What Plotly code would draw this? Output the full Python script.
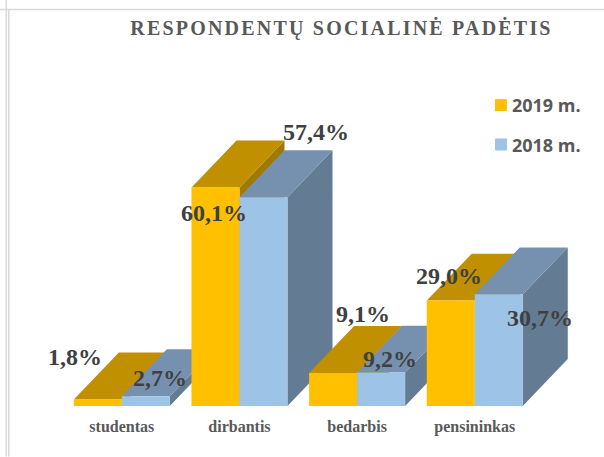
import plotly.graph_objects as go

categories = ["studentas", "dirbantis", "bedarbis", "pensininkas"]
values_2019 = [1.8, 60.1, 9.1, 29.0]
values_2018 = [2.7, 57.4, 9.2, 30.7]
labels_2019 = ["1,8%", "60,1%", "9,1%", "29,0%"]
labels_2018 = ["2,7%", "57,4%", "9,2%", "30,7%"]
shift_2019 = [(-23, 42), (-1.5, -25.5), (30, 59), (-2, 25)]
shift_2018 = [(14, 18), (53, 65), (9, 14), (41, -24)]

BAR_W = 0.408
DX = 0.3827
DY = 12.9
L, T, PW, PH = 63.2, 10.0, 540.8, 396.5
X_MAX = -0.5 + PW / 117.6


def px(x):
    return (x - L) / PW


def py(y):
    return (T + PH - y) / PH


series = [
    ("2019 m.", values_2019, labels_2019, shift_2019, -BAR_W, "#FFC000", "#C09000", "#A07A00"),
    ("2018 m.", values_2018, labels_2018, shift_2018, 0.0, "#9DC3E6", "#7691B0", "#647B94"),
]

fig = go.Figure()
annotations = []
z = 1
for c, cat in enumerate(categories):
    for name, vals, labs, shifts, off, front, top, side in series:
        v = vals[c]
        x0 = c + off
        x1 = x0 + BAR_W
        fig.add_trace(go.Scatter(
            x=[x1, x1 + DX, x1 + DX, x1, x1], y=[0, DY, v + DY, v, 0],
            mode="lines", line=dict(width=0), fill="toself", fillcolor=side,
            hoverinfo="skip", showlegend=False, zorder=z))
        fig.add_trace(go.Scatter(
            x=[x0, x1, x1 + DX, x0 + DX, x0], y=[v, v, v + DY, v + DY, v],
            mode="lines", line=dict(width=0), fill="toself", fillcolor=top,
            hoverinfo="skip", showlegend=False, zorder=z))
        fig.add_trace(go.Bar(
            x=[c], y=[v], width=BAR_W, offset=off, name=name,
            marker=dict(color=front, line=dict(width=0)),
            legendgroup=name, showlegend=c == 0, zorder=z + 1))
        z += 2
        annotations.append(dict(
            x=x0 + BAR_W / 2, y=v, xref="x", yref="y", text=labs[c], showarrow=False,
            xshift=shifts[c][0], yshift=shifts[c][1], yanchor="middle", xanchor="center",
            font=dict(family="Liberation Serif", size=24, color="#404040", weight="bold")))

line = dict(color="#D9D9D9", width=1.5)
fig.update_layout(
    width=604, height=457,
    margin=dict(l=L, r=604 - L - PW, t=T, b=457 - T - PH),
    paper_bgcolor="white", plot_bgcolor="white",
    barmode="overlay",
    title=dict(text="<b>RESPONDENTŲ SOCIALINĖ PADĖTIS</b>", x=341.5 / 604, xanchor="center",
               y=1 - 28 / 457, yanchor="middle",
               font=dict(family="Liberation Serif", size=20, color="#595959")),
    xaxis=dict(range=[-0.5, X_MAX], tickvals=list(range(len(categories))), ticktext=categories,
               showgrid=False, zeroline=False, showline=False, ticks="outside", ticklen=6,
               tickcolor="rgba(0,0,0,0)",
               tickfont=dict(family="Liberation Serif", size=16, color="#595959", weight="bold")),
    yaxis=dict(range=[0, 108.9], visible=False),
    legend=dict(x=px(481), y=py(87), xanchor="left", yanchor="top",
                tracegroupgap=13, itemclick=False, itemdoubleclick=False,
                bgcolor="rgba(0,0,0,0)",
                font=dict(family="Open Sans", size=18, color="#595959", weight="bold")),
    annotations=annotations,
    shapes=[
        dict(type="line", xref="paper", yref="paper", x0=px(6.5), x1=px(6.5), y0=py(457), y1=py(0), line=line),
        dict(type="line", xref="paper", yref="paper", x0=px(9), x1=px(9), y0=py(457), y1=py(9.5), line=line),
        dict(type="line", xref="paper", yref="paper", x0=px(0), x1=px(604), y0=py(9.5), y1=py(9.5), line=line),
    ],
)

post = """
document.body.style.margin = '0';
document.querySelectorAll('.gtitle').forEach(function (t) { t.style.letterSpacing = '2.2px'; });
document.querySelectorAll('.legendtext').forEach(function (t) { t.setAttribute('x', 31); });
"""
fig.write_html("out.html", post_script=post, config={"displayModeBar": False})
